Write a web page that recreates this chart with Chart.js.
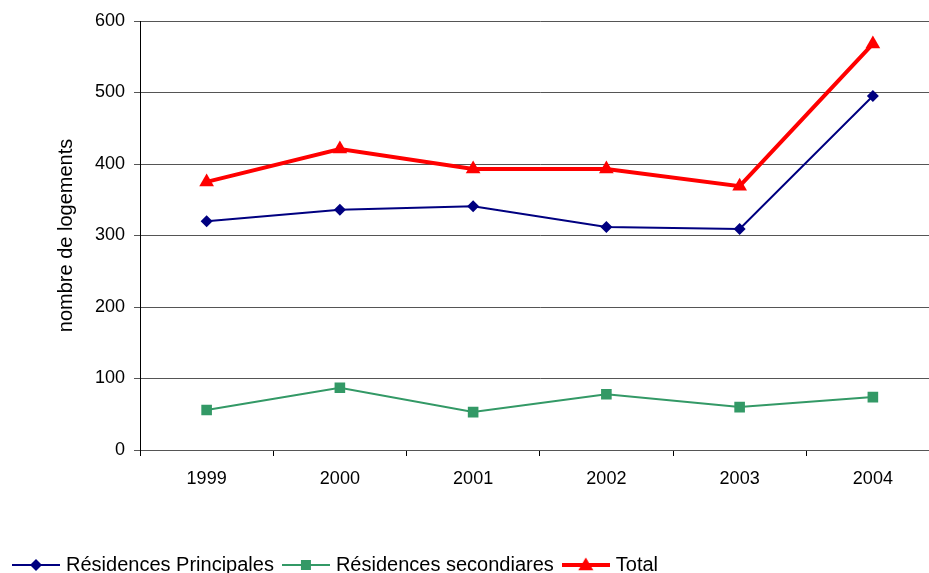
<!DOCTYPE html>
<html>
<head>
<meta charset="utf-8">
<script src="https://cdn.jsdelivr.net/npm/chart.js@4.4.1/dist/chart.umd.min.js"></script>
<style>
  html, body { margin: 0; padding: 0; background: #fff; overflow: hidden; }
  #wrap { width: 948px; height: 585px; }
</style>
</head>
<body>
<div id="wrap"><canvas id="logements" width="948" height="585"></canvas></div>
<script>
const years = ["1999", "2000", "2001", "2002", "2003", "2004"];
const principales = [320, 336, 341, 312, 309, 495];
const secondaires = [56, 87, 53, 78, 60, 74];
const total = [375, 421, 393, 393, 369, 568];
const yTicks = [0, 100, 200, 300, 400, 500, 600];

const FONT = "'Liberation Sans', Arial, sans-serif";

// legend swatch: line with the marker in the middle, like the spreadsheet legend
function legendSwatch(color, lineWidth, style, r) {
  const c = document.createElement("canvas");
  c.width = 48;
  c.height = 18;
  const ctx = c.getContext("2d");
  ctx.strokeStyle = color;
  ctx.fillStyle = color;
  ctx.lineWidth = lineWidth;
  ctx.beginPath();
  ctx.moveTo(0, 9);
  ctx.lineTo(48, 9);
  ctx.stroke();
  ctx.beginPath();
  if (style === "rectRot") {
    ctx.moveTo(24, 9 - r);
    ctx.lineTo(24 + r, 9);
    ctx.lineTo(24, 9 + r);
    ctx.lineTo(24 - r, 9);
  } else if (style === "rect") {
    ctx.rect(24 - r, 9 - r, 2 * r, 2 * r);
  } else {
    ctx.moveTo(24, 9 - r);
    ctx.lineTo(24 + r, 9 + r * 0.7);
    ctx.lineTo(24 - r, 9 + r * 0.7);
  }
  ctx.closePath();
  ctx.fill();
  return c;
}

const swatches = [
  legendSwatch("#000080", 2, "rectRot", 6),
  legendSwatch("#339966", 2, "rect", 5),
  legendSwatch("#ff0000", 4, "triangle", 7.5),
];

new Chart("logements", {
  type: "line",
  data: {
    labels: years,
    datasets: [
      {
        label: "Résidences Principales",
        data: principales,
        borderColor: "#000080",
        backgroundColor: "#000080",
        borderWidth: 2,
        pointStyle: "rectRot",
        pointRadius: 6,
        pointBorderWidth: 0,
        legendImg: swatches[0],
      },
      {
        label: "Résidences secondiares",
        data: secondaires,
        borderColor: "#339966",
        backgroundColor: "#339966",
        borderWidth: 2,
        pointStyle: "rect",
        pointRadius: 7.5,
        pointBorderWidth: 0,
        legendImg: swatches[1],
      },
      {
        label: "Total",
        data: total,
        borderColor: "#ff0000",
        backgroundColor: "#ff0000",
        borderWidth: 4,
        pointStyle: "triangle",
        pointRadius: 8.5,
        pointBorderWidth: 0,
        legendImg: swatches[2],
      },
    ],
  },
  options: {
    responsive: false,
    animation: false,
    layout: { padding: { top: 21, right: 0, left: 4, bottom: 0 } },
    scales: {
      x: {
        offset: true,
        grid: {
          offset: true,
          drawOnChartArea: false,
          tickLength: 6,
          color: "#000",
        },
        border: { color: "#555", width: 1 },
        ticks: {
          color: "#000",
          padding: 12,
          font: { family: FONT, size: 18 },
        },
        afterFit: (s) => { s.height = 93; },
      },
      y: {
        min: 0,
        max: 600,
        afterBuildTicks: (s) => { s.ticks = yTicks.map((v) => ({ value: v })); },
        grid: {
          color: "#555",
          tickLength: 6,
        },
        border: { color: "#000", width: 1 },
        ticks: {
          color: "#000",
          padding: 9,
          font: { family: FONT, size: 18 },
        },
        title: {
          display: true,
          text: "nombre de logements",
          color: "#000",
          font: { family: FONT, size: 20 },
          padding: { top: 50, bottom: 0 },
        },
        afterFit: (s) => { s.width = 136; },
      },
    },
    plugins: {
      tooltip: { enabled: false },
      legend: {
        position: "bottom",
        align: "start",
        labels: {
          usePointStyle: true,
          pointStyleWidth: 40,
          padding: 12,
          color: "#000",
          font: { family: FONT, size: 20 },
          generateLabels: (chart) =>
            chart.data.datasets.map((ds, i) => ({
              text: ds.label,
              pointStyle: ds.legendImg,
              fillStyle: ds.borderColor,
              strokeStyle: ds.borderColor,
              lineWidth: 0,
              fontColor: "#000",
              datasetIndex: i,
              hidden: false,
            })),
        },
      },
    },
  },
});
</script>
</body>
</html>
